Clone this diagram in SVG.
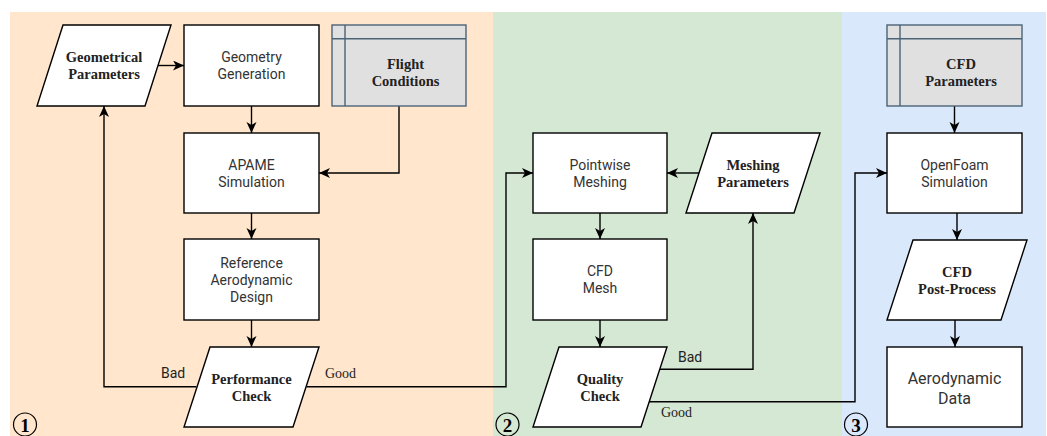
<svg xmlns="http://www.w3.org/2000/svg" width="1047" height="436" viewBox="0 0 1047 436">
<style>
.box{fill:#fff;stroke:#000;stroke-width:1.4}
.store{fill:#e0e0e0;stroke:#4b6377;stroke-width:1.4}
.sans{font-family:Roboto,"Liberation Sans",sans-serif;font-size:14px;fill:#333;text-anchor:middle}
.big{font-size:16px}
.serb{font-family:"Liberation Serif","Times New Roman",serif;font-size:14.5px;font-weight:bold;fill:#222;text-anchor:middle}
.ser{font-family:"Liberation Serif","Times New Roman",serif;font-size:14px;fill:#222}
.lbl{font-family:Roboto,"Liberation Sans",sans-serif;font-size:14px;fill:#222}
.conn{fill:none;stroke:#000;stroke-width:1.4;marker-end:url(#arr)}
.num{font-family:"Liberation Serif","Times New Roman",serif;font-size:19px;font-weight:bold;fill:#000;text-anchor:middle}
.circ{fill:none;stroke:#000;stroke-width:1.2}
</style>
<defs>
<marker id="arr" markerUnits="userSpaceOnUse" markerWidth="13" markerHeight="12" refX="11" refY="5" orient="auto">
<path d="M0,0 L11,5 L0,10 L3,5 Z" fill="#000"/>
</marker>
</defs>
<g id="panels">
<rect x="10" y="12" width="483" height="424" fill="#ffe6cc"/>
<rect x="493" y="12" width="349" height="424" fill="#d5e8d4"/>
<rect x="842" y="12" width="204" height="424" fill="#dae8fc"/>
<circle class="circ" cx="25" cy="424.5" r="11.5"/>
<text class="num" x="25" y="431.5">1</text>
<circle class="circ" cx="507.5" cy="424.5" r="11.5"/>
<text class="num" x="507.5" y="431.5">2</text>
<circle class="circ" cx="856" cy="424.5" r="11.5"/>
<text class="num" x="856" y="431.5">3</text>
</g>
<g id="connectors">
<path class="conn" d="M158,65.5 H184"/>
<path class="conn" d="M251.5,106 V133"/>
<path class="conn" d="M399,106 V173 H319"/>
<path class="conn" d="M251.5,213 V239"/>
<path class="conn" d="M251.5,320 V347"/>
<path class="conn" d="M196.5,386.7 H104 V106"/>
<path class="conn" d="M306.5,386.7 H506 V173 H533"/>
<path class="conn" d="M699,173 H667"/>
<path class="conn" d="M600,213 V239"/>
<path class="conn" d="M600,320 V347"/>
<path class="conn" d="M660,369.3 H753 V213"/>
<path class="conn" d="M649,401.7 H855 V173 H887"/>
<path class="conn" d="M954.5,106 V133"/>
<path class="conn" d="M957,213 V240"/>
<path class="conn" d="M955,320 V347"/>
<text class="lbl" x="161" y="378.3">Bad</text>
<text class="ser" x="325" y="378.3">Good</text>
<text class="lbl" x="678" y="362.3">Bad</text>
<text class="ser" x="661" y="416.7">Good</text>
</g>
<g id="geometrical-parameters">
<polygon class="box" points="63,25 171,25 145,106 37,106"/>
<text class="serb" x="104" y="62">Geometrical</text>
<text class="serb" x="104" y="79">Parameters</text>
</g>
<g id="geometry-generation">
<rect class="box" x="184" y="25" width="135" height="81"/>
<text class="sans" x="251.5" y="62">Geometry</text>
<text class="sans" x="251.5" y="79">Generation</text>
</g>
<g id="flight-conditions">
<rect class="store" x="332" y="25" width="134" height="81"/>
<path d="M345,25 V106 M332,38.7 H466" stroke="#4b6377" stroke-width="1.4" fill="none"/>
<text class="serb" x="405.5" y="68.5">Flight</text>
<text class="serb" x="405.5" y="85.5">Conditions</text>
</g>
<g id="apame-simulation">
<rect class="box" x="184" y="133" width="135" height="80"/>
<text class="sans" x="251.5" y="169.5">APAME</text>
<text class="sans" x="251.5" y="186.5">Simulation</text>
</g>
<g id="reference-aerodynamic-design">
<rect class="box" x="184" y="239" width="135" height="81"/>
<text class="sans" x="251.5" y="267.5">Reference</text>
<text class="sans" x="251.5" y="284.5">Aerodynamic</text>
<text class="sans" x="251.5" y="301.5">Design</text>
</g>
<g id="performance-check">
<polygon class="box" points="210,347 319,347 293,427 184,427"/>
<text class="serb" x="251.5" y="383.5">Performance</text>
<text class="serb" x="251.5" y="400.5">Check</text>
</g>
<g id="pointwise-meshing">
<rect class="box" x="533" y="133" width="134" height="80"/>
<text class="sans" x="600" y="169.5">Pointwise</text>
<text class="sans" x="600" y="186.5">Meshing</text>
</g>
<g id="meshing-parameters">
<polygon class="box" points="712,133 820,133 794,213 686,213"/>
<text class="serb" x="753" y="169.5">Meshing</text>
<text class="serb" x="753" y="186.5">Parameters</text>
</g>
<g id="cfd-mesh">
<rect class="box" x="533" y="239" width="134" height="81"/>
<text class="sans" x="600" y="276">CFD</text>
<text class="sans" x="600" y="293">Mesh</text>
</g>
<g id="quality-check">
<polygon class="box" points="559,347 667,347 641,427 533,427"/>
<text class="serb" x="600" y="383.5">Quality</text>
<text class="serb" x="600" y="400.5">Check</text>
</g>
<g id="cfd-parameters">
<rect class="store" x="887" y="25" width="135" height="81"/>
<path d="M900,25 V106 M887,38.7 H1022" stroke="#4b6377" stroke-width="1.4" fill="none"/>
<text class="serb" x="961" y="68.5">CFD</text>
<text class="serb" x="961" y="85.5">Parameters</text>
</g>
<g id="openfoam-simulation">
<rect class="box" x="887" y="133" width="135" height="80"/>
<text class="sans" x="954.5" y="169.5">OpenFoam</text>
<text class="sans" x="954.5" y="186.5">Simulation</text>
</g>
<g id="cfd-post-process">
<polygon class="box" points="913,240 1027,240 1001,320 887,320"/>
<text class="serb" x="957" y="276.5">CFD</text>
<text class="serb" x="957" y="293.5">Post-Process</text>
</g>
<g id="aerodynamic-data">
<rect class="box" x="887" y="347" width="135" height="80"/>
<text class="sans big" x="954.5" y="383.5">Aerodynamic</text>
<text class="sans big" x="954.5" y="403.5">Data</text>
</g>
</svg>
